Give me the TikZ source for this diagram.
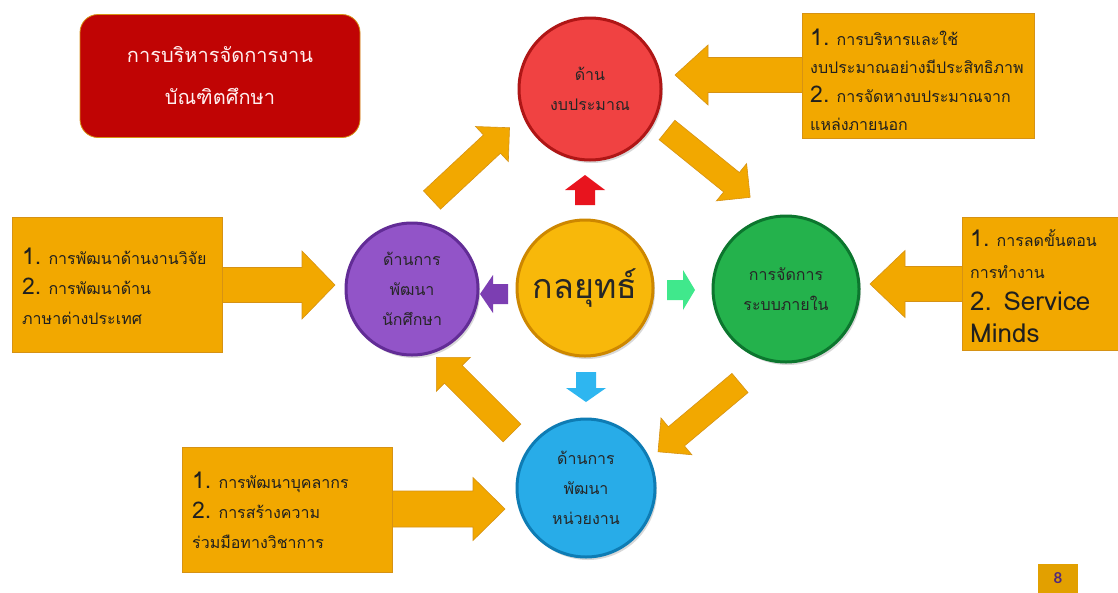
\documentclass[tikz,border=0pt]{standalone}
\usepackage{fontspec}
\setmainfont{Lato}
\newfontfamily\thai[Script=Thai]{Loma}
\usetikzlibrary{shadows}
\definecolor{org}{RGB}{242,168,0}
\definecolor{orgline}{RGB}{214,146,20}
\definecolor{titlered}{RGB}{192,4,4}
\definecolor{redc}{RGB}{240,66,66}\definecolor{redr}{RGB}{175,22,22}
\definecolor{purc}{RGB}{146,84,200}\definecolor{purr}{RGB}{98,44,150}
\definecolor{yelc}{RGB}{248,184,10}\definecolor{yelr}{RGB}{205,135,0}
\definecolor{grnc}{RGB}{36,178,76}\definecolor{grnr}{RGB}{12,118,46}
\definecolor{bluc}{RGB}{40,172,232}\definecolor{blur}{RGB}{14,124,180}
\definecolor{sred}{RGB}{232,20,30}
\definecolor{spur}{RGB}{124,62,178}
\definecolor{sgrn}{RGB}{64,232,140}
\definecolor{sblu}{RGB}{46,182,240}
\definecolor{numbox}{RGB}{226,160,0}
\definecolor{numtxt}{RGB}{80,40,124}
% block arrow: #1 style, #2 tail point, #3 angle, #4 length, #5 shaft width, #6 head width, #7 head length
\newcommand\blockarrow[7]{%
  \begin{scope}[shift={#2},rotate=#3]
    \path[#1] (0,-#5/2) -- ({#4-#7},-#5/2) -- ({#4-#7},-#6/2) -- (#4,0)
      -- ({#4-#7},#6/2) -- ({#4-#7},#5/2) -- (0,#5/2) -- cycle;
  \end{scope}}
\newcommand\nm[1]{{\fontsize{23}{23}\selectfont #1}}
\tikzset{
  bigarrow/.style={fill=org, draw=orgline, line width=0.6pt},
  disc/.style 2 args={circle, inner sep=0pt, fill=#1, draw=#2, line width=3pt,
    drop shadow={opacity=0.3, shadow xshift=2pt, shadow yshift=-3pt},
    align=center, text=black!85, font=\thai\fontsize{16}{30}\selectfont},
  infobox/.style={fill=org, draw=orgline, line width=0.6pt},
  infotext/.style={align=left, anchor=west, text=black!88, inner sep=0pt,
    font=\thai\fontsize{16}{30}\selectfont},
}
\begin{document}
\begin{tikzpicture}[x=1pt,y=-1pt]
\useasboundingbox (0,0) rectangle (1118,592);
\fill[white] (0,0) rectangle (1118,592);

% title
\node[draw=orgline, fill=titlered, rounded corners=18pt, minimum width=280pt,
  minimum height=123pt, line width=0.8pt, text=red!6, align=center,
  font=\thai\fontsize{20}{42}\selectfont] (title) at (220,76)
  {การบริหารจัดการงาน\\บัณฑิตศึกษา};

% big arrows from boxes
\blockarrow{bigarrow}{(200,285)}{0}{135}{35}{68}{33}
\blockarrow{bigarrow}{(820,75)}{180}{145}{35}{60}{33}
\blockarrow{bigarrow}{(985,284)}{180}{115}{35}{67}{35}
\blockarrow{bigarrow}{(370,509)}{0}{135}{36}{63}{32}

% diagonal arrows
\blockarrow{bigarrow}{(432,200)}{43}{106}{25}{48}{24}
\blockarrow{bigarrow}{(667,130)}{-39}{107}{25}{48}{24}
\blockarrow{bigarrow}{(740,383)}{220}{107}{25}{48}{24}
\blockarrow{bigarrow}{(512,433)}{135}{107}{25}{48}{24}

% small arrows
\blockarrow{fill=sred}{(585,205)}{90}{30}{20}{40}{15}
\blockarrow{fill=spur}{(508,294)}{180}{28}{20}{38}{13}
\blockarrow{fill=sgrn}{(667,290)}{0}{28}{20}{40}{12}
\blockarrow{fill=sblu}{(586,372)}{-90}{30}{20}{40}{14}

% circles
\node[disc={redc}{redr}, minimum size=142pt] (budget) at (590,89) {ด้าน\\งบประมาณ};
\node[disc={purc}{purr}, minimum size=132pt] (student) at (412,289) {ด้านการ\\พัฒนา\\นักศึกษา};
\node[disc={yelc}{yelr}, minimum size=136pt, font=\thai\fontsize{34}{34}\selectfont] (strategy) at (585,288) {กลยุทธ์};
\node[disc={grnc}{grnr}, minimum size=146pt] (system) at (786,289) {การจัดการ\\ระบบภายใน};
\node[disc={bluc}{blur}, minimum size=138pt] (unit) at (586,488) {ด้านการ\\พัฒนา\\หน่วยงาน};

% info boxes
\path[infobox] (12,217) rectangle (222,352);
\node[infotext] (lefttxt) at (22,286) {\nm{1.} การพัฒนาด้านงานวิจัย\\\nm{2.} การพัฒนาด้าน\\ภาษาต่างประเทศ};

\path[infobox] (802,13) rectangle (1034,138);
\node[infotext, font=\thai\fontsize{16}{28.5}\selectfont] (toptxt) at (810,80) {\nm{1.} การบริหารและใช้\\งบประมาณอย่างมีประสิทธิภาพ\\\nm{2.} การจัดหางบประมาณจาก\\แหล่งภายนอก};

\path[infobox] (962,217) rectangle (1118,350);
\node[infotext, font=\thai\fontsize{16}{32}\selectfont] (righttxt) at (970,286) {\nm{1.} การลดขั้นตอน\\การทำงาน\\{\fontsize{26}{26}\selectfont 2. Service}\\{\fontsize{26}{26}\selectfont Minds}};

\path[infobox] (182,447) rectangle (392,572);
\node[infotext] (bottxt) at (192,510) {\nm{1.} การพัฒนาบุคลากร\\\nm{2.} การสร้างความ\\ร่วมมือทางวิชาการ};

% page number
\node[fill=numbox, minimum width=40pt, minimum height=29pt, inner sep=0pt,
  text=numtxt, font=\bfseries\fontsize{15}{15}\selectfont] (page) at (1058,578) {8};
\end{tikzpicture}
\end{document}
